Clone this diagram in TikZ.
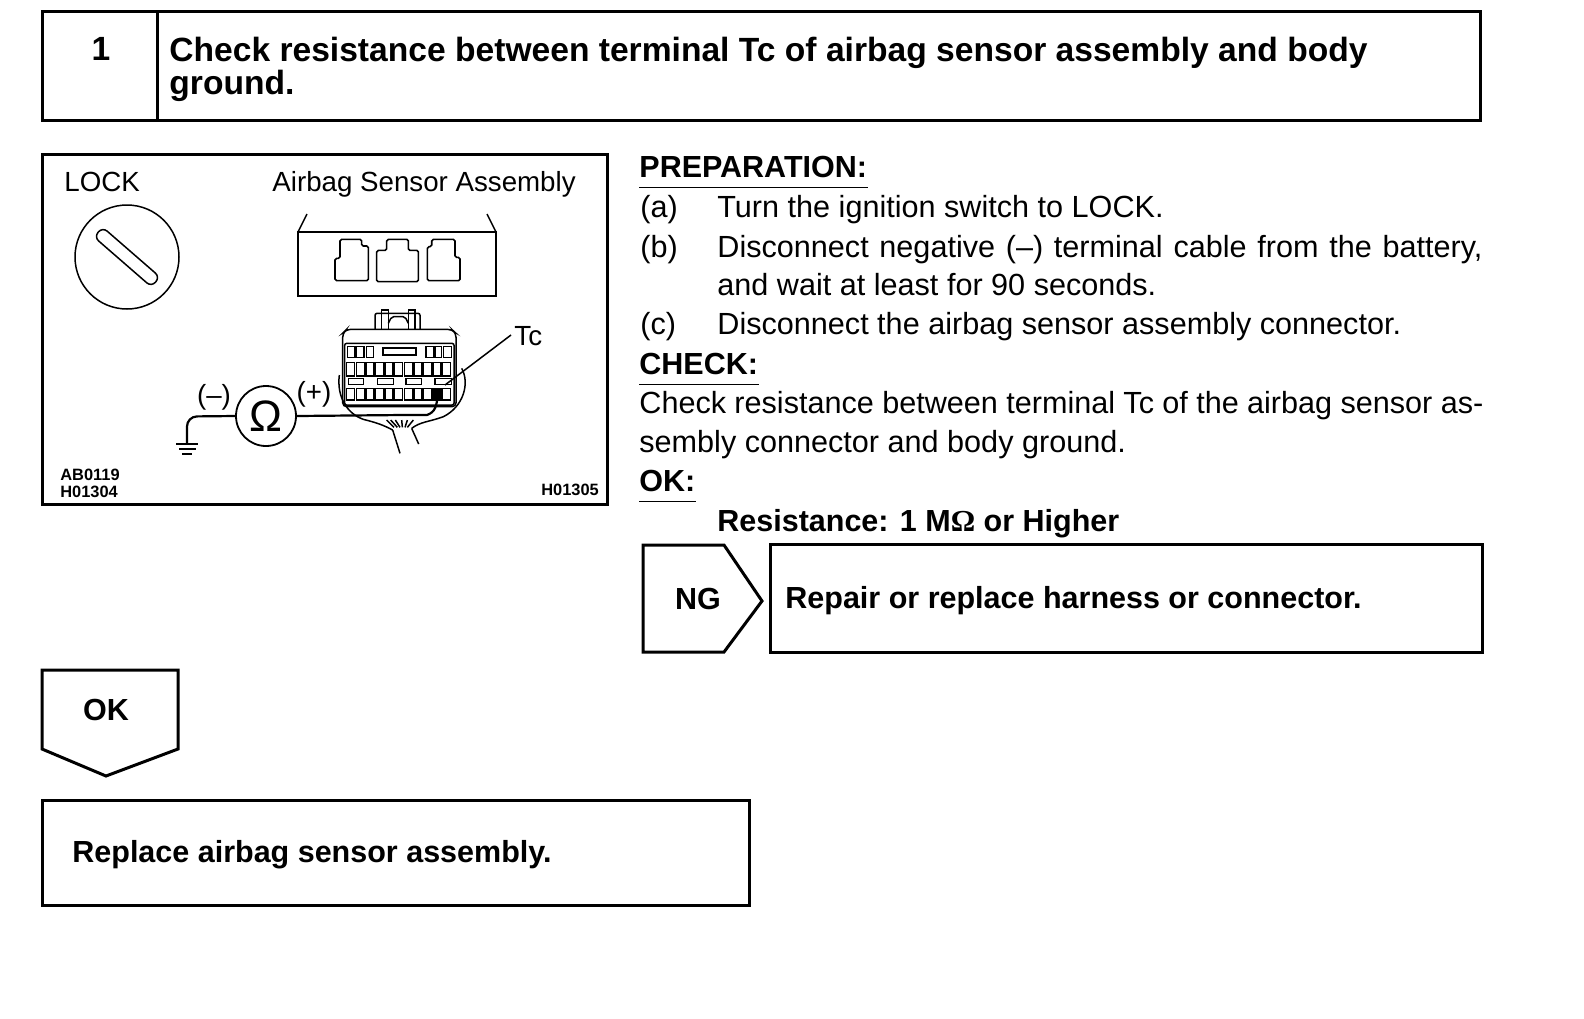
\documentclass[tikz,border=0pt]{standalone}
\usepackage{fontspec}
\setmainfont{Liberation Sans}
\newfontfamily\symfont{Liberation Serif}
\usepackage{tikz}
\usetikzlibrary{positioning,calc}

\begin{document}
\begin{tikzpicture}[
  x=0.5pt, y=-0.5pt,
  frame/.style={draw=black, line width=1.5pt, line join=miter},
  thin line/.style={draw=black, line width=0.75pt},
  wire/.style={draw=black, line width=1.1pt},
  headtext/.style={font=\fontsize{16.8}{16.8}\bfseries\selectfont, anchor=base west, inner sep=0pt},
  boldtext/.style={font=\fontsize{15.25}{15.25}\bfseries\selectfont, anchor=base west, inner sep=0pt},
  bodytext/.style={font=\fontsize{15.3}{15.3}\selectfont, anchor=base west, inner sep=0pt},
  figtext/.style={font=\fontsize{13.85}{13.85}\selectfont, anchor=base west, inner sep=0pt},
  codetext/.style={font=\fontsize{8.2}{8.2}\bfseries\selectfont, anchor=base west, inner sep=0pt},
  rule/.style={draw=black, line width=0.9pt},
]
\useasboundingbox (0,0) rectangle (1584,1018);

% title bar
\draw[frame] (42,11) rectangle (1480,120);
\draw[frame] (157,11) -- (157,120);
\node[headtext, anchor=center] (stepno) at (101,49) {1};
\node[headtext] (titlea) at (169,61) {Check resistance between terminal Tc of airbag sensor assembly and body};
\node[headtext] (titleb) at (169,94) {ground.};

% illustration frame
\draw[frame] (42,154) rectangle (607,504);
\node[figtext] (lock) at (64,191) {LOCK};
\node[figtext] (assy) at (272,191) {Airbag Sensor Assembly};
\node[thin line, circle, minimum size=52pt, inner sep=0pt] (knob) at (127,257) {};
\node[thin line, rounded corners=3pt, minimum width=38pt, minimum height=6.5pt, inner sep=0pt, rotate=-41] (slot) at (127,257) {};

% upper connector
\draw[thin line] (298,232) rectangle (496,296);
\draw[thin line] (298,232) -- (307,214);
\draw[thin line] (496,232) -- (487,214);
\begin{scope}[shift={(280,200)}, x=0.1667pt, y=-0.1667pt]
  \draw[wire, line width=0.8pt, rounded corners=0.8pt] (180,118) -- (245,118) -- (245,138) -- (265,138) -- (265,242) -- (165,242) -- (165,175) -- (180,175) -- cycle;
  \draw[wire, line width=0.8pt, rounded corners=0.8pt] (320,118) -- (385,118) -- (385,151) -- (415,151) -- (415,245) -- (290,245) -- (290,151) -- (320,151) -- cycle;
  \draw[wire, line width=0.8pt, rounded corners=0.8pt] (455,118) -- (525,118) -- (525,172) -- (540,172) -- (540,242) -- (442,242) -- (442,140) -- (455,140) -- cycle;
\end{scope}

% lower connector, in crop units
\begin{scope}[shift={(320,300)}, x=0.1667pt, y=-0.1667pt]
  \draw[thin line, rounded corners=2pt] (68,320) -- (68,100) -- (80,88) -- (395,88) -- (408,100) -- (408,320) -- cycle;
  \draw[thin line, rounded corners=1pt] (74,315) -- (74,130) -- (402,130) -- (402,315) -- cycle;
  % latch
  \draw[thin line, rounded corners=1pt] (165,88) -- (165,40) -- (300,40) -- (300,88);
  \draw[thin line] (185,88) -- (185,30) -- (205,30) -- (205,88);
  \draw[thin line] (265,88) -- (265,30) -- (285,30) -- (285,88);
  \draw[thin line, rounded corners=1pt] (205,70) -- (215,50) -- (255,50) -- (265,70);
  % cavities
  \foreach \xa/\xb in {82/105,110/132,140/160,318/340,345/365,370/395}
    \draw[thin line] (\xa,140) rectangle (\xb,172);
  \draw[thin line, line width=0.9pt] (190,143) rectangle (288,165);
  \foreach \i in {0,...,10} {
    \pgfmathsetmacro{\xa}{80 + \i*28.8}
    \draw[thin line] (\xa,187) rectangle (\xa+24,228);
    \draw[thin line] (\xa,265) rectangle (\xa+24,300);
  }
  \foreach \xa/\xb in {85/130,172/220,258/305,345/395}
    \draw[thin line] (\xa,235) rectangle (\xb,253);
  % harness loop and fingers
  \draw[thin line] (58,225) .. controls (50,290) and (80,340) .. (130,358) .. controls (170,368) and (190,375) .. (218,390);
  \draw[thin line] (425,205) .. controls (450,250) and (430,320) .. (370,350) .. controls (330,365) and (300,365) .. (275,385);
  \draw[thin line] (218,390) -- (240,460);
  \draw[thin line] (275,385) -- (296,432);
  \foreach \xa/\xb in {200/222,212/232,226/240,245/247,262/255,280/262}
    \draw[thin line] (\xa,360) -- (\xb,382);
\end{scope}
\coordinate (probe) at (438,391);
\coordinate (pinbend) at (403,415);
\draw[line width=2.6pt] (437,388) -- (437,399);

% meter and leads
\node[thin line, circle, minimum size=30pt, inner sep=0pt, font=\fontsize{22}{22}\selectfont, line width=0.9pt] (meter) at (266,416) {Ω};
\node[figtext, anchor=center] (neg) at (214,397) {(–)};
\node[figtext, anchor=center] (pos) at (314,394) {(+)};
\coordinate (gnd) at (187,444);
\draw[wire, rounded corners=5pt] (meter.west) -- (187,416.5) -- (gnd);
\draw[wire] (meter.east) -- (pinbend) -- (427,415) .. controls (435,412) and (437,407) .. (probe);
\draw[wire, line width=0.9pt] (176,444) -- (198,444);
\draw[wire, line width=0.9pt] (179,449) -- (196,449);
\draw[wire, line width=0.9pt] (182,454) -- (192,454);

% terminal leader
\node[figtext] (tc) at (514,345) {Tc};
\coordinate (tcpin) at (445,385);
\coordinate (tcend) at (511,335);
\draw[thin line] (tcpin) -- (tcend);

% codes
\node[codetext] (code1) at (60,480) {AB0119};
\node[codetext] (code2) at (60,497) {H01304};
\node[codetext] (code3) at (541,495) {H01305};

% right column
\node[boldtext] (prep) at (639,177) {PREPARATION:};
\draw[rule] (639,187.5) -- (868,187.5);
\foreach \name/\tag/\yy in {rowa/(a)/217,rowb/(b)/257,rowc/(c)/334}
  \node[bodytext] (\name) at (640,\yy) {\tag};
\node[bodytext] (texta) at (717,217) {Turn the ignition switch to LOCK.};
\node[bodytext] (textb) at (717,257) {\makebox[382.5pt][s]{Disconnect negative (–) terminal cable from the battery,}};
\node[bodytext] (textbb) at (717,295) {and wait at least for 90 seconds.};
\node[bodytext] (textc) at (717,334) {Disconnect the airbag sensor assembly connector.};
\node[boldtext] (check) at (639,374) {CHECK:};
\draw[rule] (639,384.5) -- (759,384.5);
\node[bodytext] (checka) at (639,413) {\makebox[422pt][s]{Check resistance between terminal Tc of the airbag sensor as-}};
\node[bodytext] (checkb) at (639,452) {sembly connector and body ground.};
\node[boldtext] (okhead) at (639,491) {OK:};
\draw[rule] (639,501.5) -- (696,501.5);
\node[boldtext] (spec) at (717,531) {Resistance: 1 M{\symfont Ω} or Higher};

% NG branch
\draw[frame] (643,545) -- (724,545) -- (762,601) -- (724,652) -- (643,652) -- cycle;
\node[boldtext, anchor=center] (ng) at (698,599) {NG};
\draw[frame] (770,544) rectangle (1482,652);
\node[boldtext] (repair) at (785,608) {Repair or replace harness or connector.};

% OK branch
\draw[frame] (42,670) -- (178,670) -- (178,749) -- (106,776) -- (42,749) -- cycle;
\node[boldtext, anchor=center] (ok) at (106,710) {OK};
\draw[frame] (42,800) rectangle (749,905);
\node[boldtext] (replace) at (72,862) {Replace airbag sensor assembly.};
\end{tikzpicture}
\end{document}
